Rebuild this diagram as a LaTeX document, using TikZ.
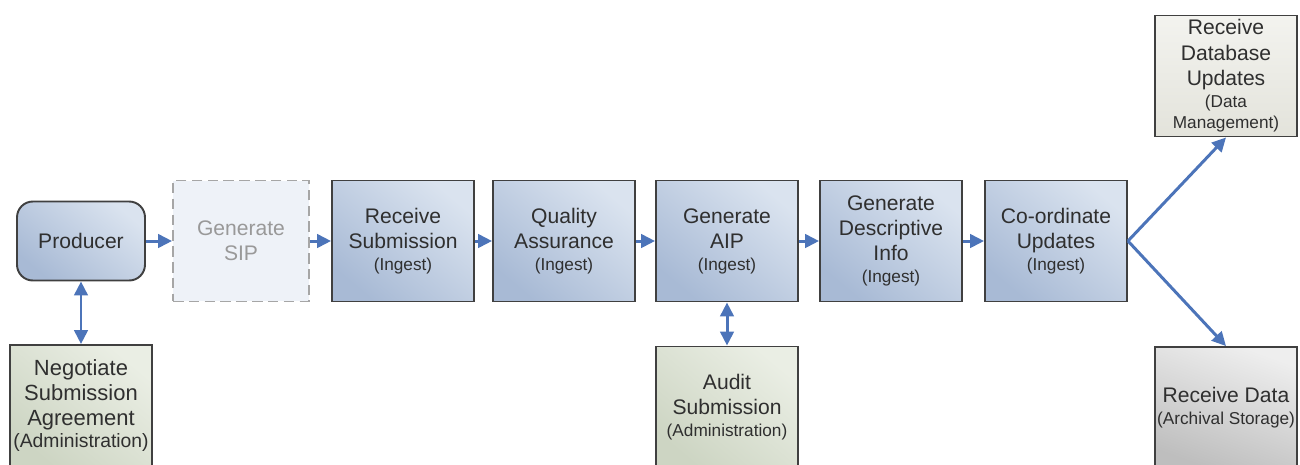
\documentclass[tikz,border=0pt]{standalone}
\usepackage{fontspec}
\setmainfont{Liberation Sans}
\usetikzlibrary{arrows.meta}
\definecolor{boxline}{HTML}{404040}
\definecolor{arrowblue}{HTML}{4C74B9}
\definecolor{procdark}{HTML}{A8BAD5}
\definecolor{proclight}{HTML}{DAE3EF}
\definecolor{admindark}{HTML}{CDD5C3}
\definecolor{adminlight}{HTML}{EAEEE4}
\definecolor{storedark}{HTML}{BEBEBE}
\definecolor{storelight}{HTML}{EEEEEE}
\definecolor{dbtop}{HTML}{F3F3EF}
\definecolor{dbbottom}{HTML}{E3E3DB}
\definecolor{ghostfill}{HTML}{EEF2F8}
\definecolor{txt}{HTML}{2F2F2F}
\newcommand{\ownerfont}{\fontsize{9.8}{11.5}\selectfont}
\tikzset{
  stagebox/.style={draw=boxline, line width=1.1pt, text=txt, align=center,
    minimum width=2.84cm, minimum height=2.42cm, inner sep=1pt},
  proc/.style={stagebox, top color=proclight, bottom color=procdark, shading angle=-40},
  admin/.style={stagebox, top color=adminlight, bottom color=admindark, shading angle=-40},
  store/.style={stagebox, top color=storelight, bottom color=storedark, shading angle=-20},
  dbbox/.style={stagebox, top color=dbtop, bottom color=dbbottom},
  producerbox/.style={proc, rounded corners=9pt, minimum width=2.56cm, minimum height=1.58cm},
  ghost/.style={draw=black!35, dashed, dash pattern=on 6pt off 3pt, line width=1.1pt,
    fill=ghostfill, text=black!40, align=center, minimum width=2.72cm, minimum height=2.42cm},
  flowarrow/.style={draw=arrowblue, line width=1.7pt, -{Triangle[length=0.28cm, width=0.27cm]}},
  twoway/.style={flowarrow, {Triangle[length=0.28cm, width=0.27cm]}-{Triangle[length=0.28cm, width=0.27cm]}}
}
\begin{document}
\begin{tikzpicture}[x=0.02cm, y=-0.02cm, font=\fontsize{12}{14.4}\selectfont]
  \useasboundingbox (0,0) rectangle (1300,464);
  % producer and the greyed-out SIP step
  \node[producerbox] (producer) at (81,241) {Producer};
  \node[ghost] (gensip) at (241,241) {Generate\\SIP};
  % ingest chain
  \node[proc] (recsub) at (403,241) {Receive\\Submission\\[-2pt]{\ownerfont(Ingest)}};
  \node[proc] (qa) at (564,241) {Quality\\Assurance\\[-2pt]{\ownerfont(Ingest)}};
  \node[proc] (genaip) at (727,241) {Generate\\AIP\\[-2pt]{\ownerfont(Ingest)}};
  \node[proc] (gendesc) at (891,241) {Generate\\Descriptive\\Info\\[-2pt]{\ownerfont(Ingest)}};
  \node[proc] (coord) at (1056,241) {Co-ordinate\\Updates\\[-2pt]{\ownerfont(Ingest)}};
  % functions of the other entities
  \node[admin, font=\fontsize{12.5}{14.4}\selectfont] (negotiate) at (81,405.5)
    {Negotiate\\Submission\\Agreement\\[-2pt]{\fontsize{11}{13}\selectfont(Administration)}};
  \node[admin] (audit) at (727,407) {Audit\\Submission\\[-2pt]{\ownerfont(Administration)}};
  \node[dbbox] (recdb) at (1226,76)
    {Receive\\Database\\Updates\\[-2pt]{\ownerfont(Data}\\[-2pt]{\ownerfont Management)}};
  \node[store] (recdata) at (1226,407.5) {Receive Data\\[-2pt]{\ownerfont(Archival Storage)}};
  % connectors
  \foreach \a/\b in {producer/gensip, gensip/recsub, recsub/qa, qa/genaip, genaip/gendesc, gendesc/coord}
    \draw[flowarrow] (\a) -- (\b);
  \draw[twoway] (producer) -- (negotiate);
  \draw[twoway] (genaip) -- (audit);
  \draw[flowarrow] (coord.east) -- (recdb.south);
  \draw[flowarrow] (coord.east) -- (recdata.north);
\end{tikzpicture}
\end{document}
